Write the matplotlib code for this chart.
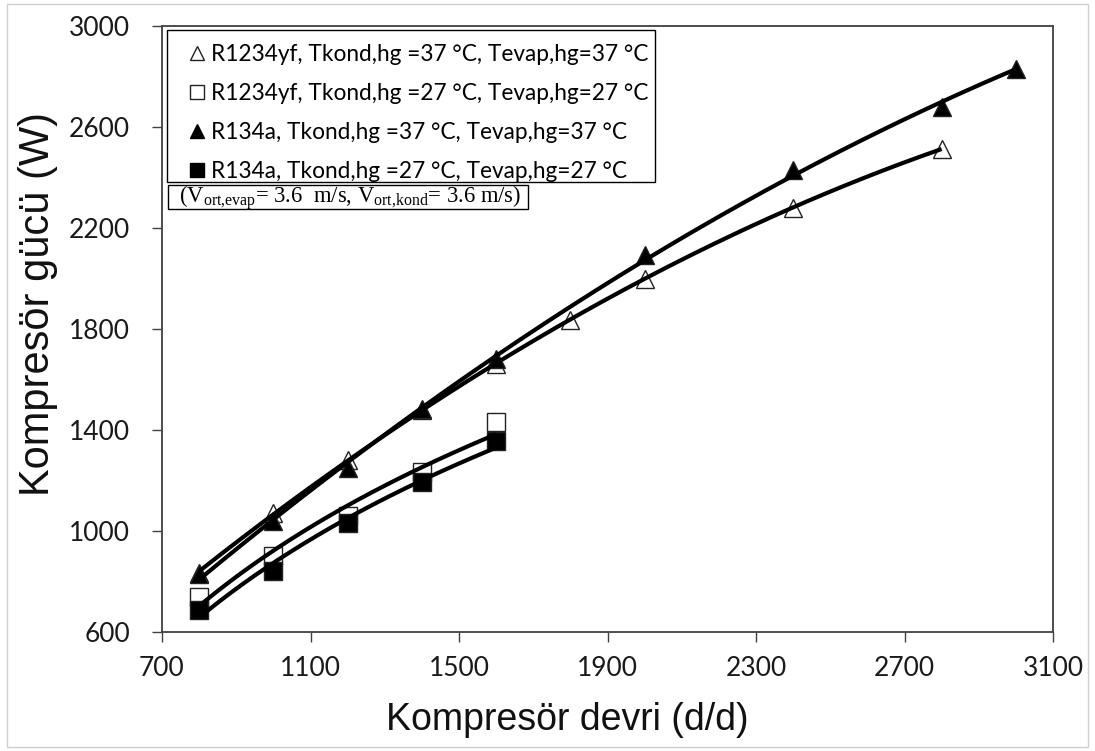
import numpy as np
import matplotlib
matplotlib.use("Agg")
import matplotlib.pyplot as plt
from matplotlib.lines import Line2D
from matplotlib.patches import Rectangle

# Compressor speed (rpm) and compressor power (W) for each test case
rpm_yf37 = [800, 1000, 1200, 1400, 1600, 1800, 2000, 2400, 2800]
pow_yf37 = [835, 1071, 1281, 1480, 1663, 1834, 1999, 2281, 2514]

rpm_yf27 = [800, 1000, 1200, 1400, 1600]
pow_yf27 = [739, 900, 1059, 1234, 1430]

rpm_a37 = [800, 1000, 1200, 1400, 1600, 2000, 2400, 2800, 3000]
pow_a37 = [831, 1038, 1250, 1483, 1682, 2092, 2430, 2679, 2831]

rpm_a27 = [800, 1000, 1200, 1400, 1600]
pow_a27 = [688, 841, 1032, 1195, 1356]

labels = [
    "R1234yf, Tkond,hg =37 °C, Tevap,hg=37 °C",
    "R1234yf, Tkond,hg =27 °C, Tevap,hg=27 °C",
    "R134a, Tkond,hg =37 °C, Tevap,hg=37 °C",
    "R134a, Tkond,hg =27 °C, Tevap,hg=27 °C",
]
note = r"(V$_{\mathrm{ort{,}evap}}$= 3.6  m/s, V$_{\mathrm{ort{,}kond}}$= 3.6 m/s)"

x_ticks = [700, 1100, 1500, 1900, 2300, 2700, 3100]
y_ticks = [600, 1000, 1400, 1800, 2200, 2600, 3000]

plt.rcParams["mathtext.fontset"] = "custom"
plt.rcParams["mathtext.rm"] = "Liberation Serif"

W, H = 1095, 751
fig = plt.figure(figsize=(W / 100, H / 100), dpi=100)
ax = fig.add_axes([162 / W, 1 - 632 / H, (1053 - 162) / W, (632 - 26) / H])


def fig_px(x, y):
    """Figure fraction from pixel position measured from the top-left."""
    return x / W, 1 - y / H


# (x, y, marker, face colour, trend type)
series = [
    (rpm_yf37, pow_yf37, "^", "white", "poly2"),
    (rpm_yf27, pow_yf27, "s", "white", "log"),
    (rpm_a37, pow_a37, "^", "black", "poly2"),
    (rpm_a27, pow_a27, "s", "black", "log"),
]

# Markers first, then trend lines drawn on top
for i, (xs, ys, mk, fc, _) in enumerate(series):
    ms = 12.5 if mk == "^" else 13
    ax.plot(xs, ys, linestyle="none", marker=mk, markersize=ms,
            markerfacecolor=fc, markeredgecolor="#222222",
            markeredgewidth=1.0, zorder=3 + i)

for xs, ys, mk, fc, kind in series:
    xx = np.linspace(min(xs), max(xs), 200)
    if kind == "log":
        coef = np.polyfit(np.log(xs), ys, 1)
        yy = np.polyval(coef, np.log(xx))
    else:
        coef = np.polyfit(xs, ys, 2)
        yy = np.polyval(coef, xx)
    ax.plot(xx, yy, color="black", lw=3.0, solid_capstyle="butt", zorder=10)

ax.set_xlim(700, 3100)
ax.set_ylim(600, 3000)
ax.set_xticks(x_ticks)
ax.set_yticks(y_ticks)

for s in ax.spines.values():
    s.set_color("#404040")
    s.set_linewidth(1.3)

ax.tick_params(axis="both", direction="out", length=7, width=1.0,
               color="#404040", labelcolor="#1a1a1a")
ax.tick_params(axis="y", pad=16)
ax.tick_params(axis="x", pad=10)
for lab in ax.get_xticklabels() + ax.get_yticklabels():
    lab.set_fontfamily("Lato")
    lab.set_fontsize(19)

ax.set_xlabel("Kompresör devri (d/d)", fontsize=27,
              family="Liberation Sans", color="#111111")
ax.set_ylabel("Kompresör gücü (W)", fontsize=30,
              family="Liberation Sans", color="#111111")
ax.xaxis.set_label_coords((567 - 162) / 891, -(720 - 632) / 606)
ax.yaxis.set_label_coords(-(162 - 38) / 891, (632 - 304) / 606)
ax.xaxis.label.set_va("center")
ax.yaxis.label.set_va("center")

# Legend boxes (frames drawn separately so they can be sized freely)
for (x0, y0, x1, y1) in [(167, 30, 655, 182), (168, 185, 528, 209)]:
    ax.add_patch(Rectangle(fig_px(x0, y1), (x1 - x0) / W, (y1 - y0) / H,
                           transform=fig.transFigure, fc="white", ec="black",
                           lw=1.0, clip_on=False, zorder=15))

handles = [
    Line2D([], [], linestyle="none", marker="^", markersize=10.5,
           markerfacecolor="white", markeredgecolor="#222222", markeredgewidth=1.0),
    Line2D([], [], linestyle="none", marker="s", markersize=10.5,
           markerfacecolor="white", markeredgecolor="#222222", markeredgewidth=1.0),
    Line2D([], [], linestyle="none", marker="^", markersize=10.5,
           markerfacecolor="black", markeredgecolor="black"),
    Line2D([], [], linestyle="none", marker="s", markersize=10.5,
           markerfacecolor="black", markeredgecolor="black"),
]
leg = ax.legend(handles, labels, loc="upper left",
                bbox_to_anchor=fig_px(189, 44),
                bbox_transform=fig.transFigure,
                prop={"family": "Lato", "size": 16.3},
                frameon=False, borderpad=0, borderaxespad=0,
                handlelength=0.7, handletextpad=0.25, labelspacing=0.79)
leg.set_zorder(20)

# Air velocity note
fig.text(179 / W, 1 - 198 / H, note, fontsize=16.3,
         family="Liberation Serif", ha="left", va="center", zorder=21)

# Light outer frame of the chart area
fig.patches.append(Rectangle((7 / W, 4 / H), (W - 14) / W, (H - 8) / H,
                             transform=fig.transFigure, fill=False,
                             edgecolor="#d0d0d0", lw=1.0))

fig.savefig("out.png", dpi=100, facecolor="white")
